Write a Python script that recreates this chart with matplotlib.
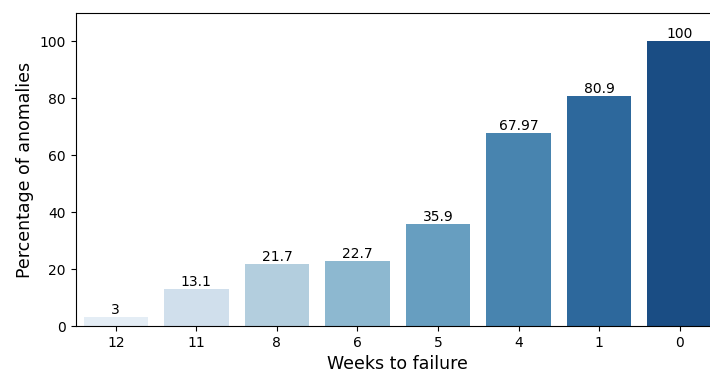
import pandas as pd
import seaborn as sns
import matplotlib.pyplot as plt

weeks = ["12", "11", "8", "6", "5", "4", "1", "0"]
pct = [3, 13.1, 21.7, 22.7, 35.9, 67.97, 80.9, 100]

df = pd.DataFrame({"week": weeks, "pct": pct})

fig = plt.figure(figsize=(7.1, 3.73), dpi=100)
ax = fig.add_axes([75.5 / 710, 47 / 373, 644.5 / 710, 313 / 373])
sns.barplot(data=df, x="week", y="pct", hue="week", palette="Blues", legend=False, ax=ax)
for c in ax.containers:
    ax.bar_label(c, fontsize=10)
ax.set_ylim(0, 110)
ax.set_xlabel("Weeks to failure", fontsize=12.5)
ax.set_ylabel("Percentage of anomalies", fontsize=12.5)
ax.tick_params(labelsize=10)
fig.savefig("out.png", dpi=100)
